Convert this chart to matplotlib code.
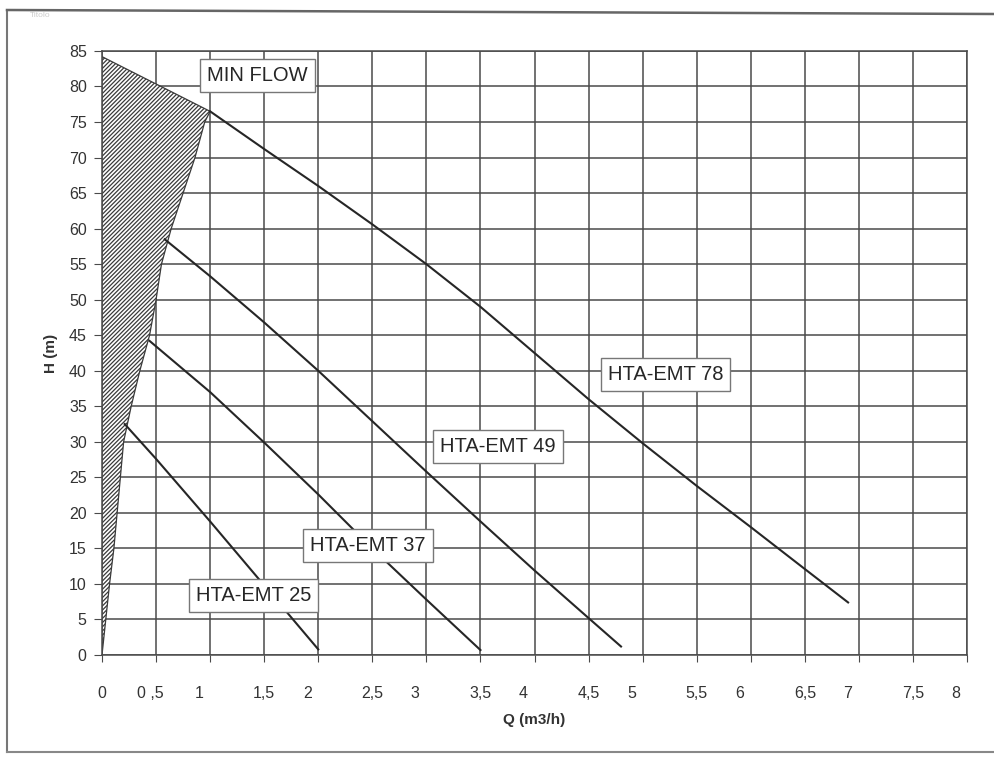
import matplotlib
matplotlib.use("Agg")
import matplotlib.pyplot as plt
from matplotlib.transforms import ScaledTranslation

plt.rcParams['font.family'] = ['Liberation Sans', 'DejaVu Sans']
plt.rcParams['hatch.linewidth'] = 0.9

# pump curves, Q (m3/h) -> H (m)
q78 = [1.0, 1.5, 2.0, 2.5, 3.0, 3.5, 4.0, 4.5, 5.0, 5.5, 6.0, 6.5, 6.9]
h78 = [76.5, 71.2, 66.0, 60.6, 55.0, 49.0, 42.5, 36.0, 29.8, 23.8, 18.0, 12.1, 7.4]

q49 = [0.58, 1.0, 1.5, 2.0, 2.5, 3.0, 3.5, 4.0, 4.5, 4.8]
h49 = [58.5, 53.3, 46.8, 40.0, 32.9, 25.8, 18.8, 11.9, 5.2, 1.2]

q37 = [0.44, 1.0, 1.5, 2.0, 2.5, 3.0, 3.5]
h37 = [44.2, 37.0, 29.9, 22.6, 15.0, 7.8, 0.7]

q25 = [0.21, 0.5, 1.0, 1.5, 2.0]
h25 = [32.5, 27.6, 18.8, 9.8, 0.8]

# hatched minimum-flow zone outline
q_min = [0.0, 1.0, 0.95, 0.86, 0.75, 0.64, 0.55, 0.5, 0.44, 0.35, 0.27, 0.2, 0.17, 0.14, 0.11, 0.07, 0.035, 0.0]
h_min = [84.2, 76.5, 75, 70, 65, 60, 55, 50, 45, 40, 35, 30, 25, 20, 15, 10, 5, 0]

curve_names = ["HTA-EMT 78", "HTA-EMT 49", "HTA-EMT 37", "HTA-EMT 25"]
label_q = [5.21, 3.66, 2.46, 1.40]
label_h = [39.5, 29.3, 15.4, 8.4]

x_ticks = [0, 0.5, 1, 1.5, 2, 2.5, 3, 3.5, 4, 4.5, 5, 5.5, 6, 6.5, 7, 7.5, 8]
x_labels = ["0", "0 ,5", "1", "1,5", "2", "2,5", "3", "3,5", "4", "4,5",
            "5", "5,5", "6", "6,5", "7", "7,5", "8"]
y_ticks = list(range(0, 90, 5))

ink = "#333333"
grid_col = "#4a4a4a"

fig = plt.figure(figsize=(9.95, 7.57), dpi=100)
ax = fig.add_axes([0.1025, 0.1347, 0.8694, 0.7980])

ax.set_xlim(0, 8)
ax.set_ylim(0, 85)

ax.set_xticks(x_ticks)
ax.set_xticklabels(x_labels, fontsize=11.5, color=ink)
ax.set_yticks(y_ticks)
ax.set_yticklabels([str(v) for v in y_ticks], fontsize=11.5, color=ink)
ax.tick_params(axis='x', direction='out', length=5, pad=17, color=grid_col)
ax.tick_params(axis='y', direction='out', length=6, pad=5, color=grid_col)

# integer labels sit a little left of their grid line in the original
for val, lab in zip(x_ticks, ax.get_xticklabels()):
    if val >= 1 and float(val).is_integer():
        lab.set_transform(lab.get_transform() +
                          ScaledTranslation(-11 / 100, 0, fig.dpi_scale_trans))
    elif val == 0.5:
        lab.set_transform(lab.get_transform() +
                          ScaledTranslation(-6 / 100, 0, fig.dpi_scale_trans))

ax.grid(True, color=grid_col, linewidth=1.1)
ax.set_axisbelow(True)
for sp in ax.spines.values():
    sp.set_color(grid_col)
    sp.set_linewidth(1.1)

ax.set_xlabel("Q (m3/h)", fontsize=11, fontweight='bold', color=ink, labelpad=9)
ax.set_ylabel("H (m)", fontsize=11, fontweight='bold', color=ink, labelpad=8)

# minimum flow zone
ax.fill(q_min, h_min, facecolor='white', edgecolor='#3a3a3a', hatch='////////',
        linewidth=0.9, zorder=2)

for q, h in [(q78, h78), (q49, h49), (q37, h37), (q25, h25)]:
    ax.plot(q, h, color='#262626', linewidth=1.5, zorder=3)

box = dict(boxstyle='square,pad=0.35', facecolor='white', edgecolor='#777777', linewidth=1.0)
for name, q, h in zip(curve_names, label_q, label_h):
    ax.text(q, h, name, fontsize=14.5, color='#262626', ha='center', va='center',
            bbox=box, zorder=5)
ax.text(1.44, 81.5, "MIN FLOW", fontsize=14.5, color='#262626', ha='center', va='center',
        bbox=box, zorder=5)

# scanned page frame
W, H = 995, 757
fig.add_artist(plt.Line2D([7 / W, 7 / W], [1 - 11 / H, 1 - 752 / H], color='#777777', lw=1.5))
fig.add_artist(plt.Line2D([7 / W, 1.0], [1 - 10 / H, 1 - 14 / H], color='#666666', lw=1.8))
fig.add_artist(plt.Line2D([7 / W, 1.0], [1 - 752 / H, 1 - 752 / H], color='#888888', lw=1.5))
fig.text(30 / W, 1 - 17 / H, "Titolo", fontsize=6, color='#cccccc')

fig.savefig("out.png", dpi=100)
